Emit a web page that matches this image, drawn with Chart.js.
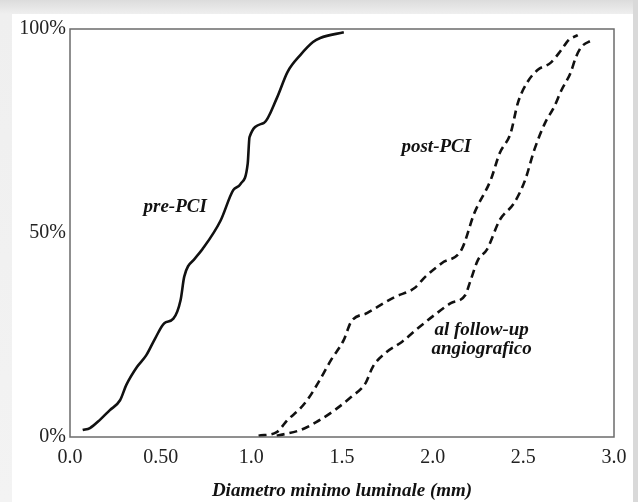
<!DOCTYPE html>
<html>
<head>
<meta charset="utf-8">
<script src="https://cdn.jsdelivr.net/npm/chart.js@4/dist/chart.umd.min.js"></script>
<style>
  html, body { margin: 0; padding: 0; width: 638px; height: 502px; overflow: hidden; }
  body { background: linear-gradient(to bottom, #dcdcdc 0px, #efefef 14px, #f3f3f3 100%); position: relative; }
  #card { position: absolute; left: 12px; top: 14px; width: 621px; height: 488px; background: #fff; }
  #rightedge { position: absolute; left: 633px; top: 0; width: 5px; height: 502px; background: #d9d9d9; }
  #wrap { position: absolute; left: 0; top: 0; width: 638px; height: 502px; }
</style>
</head>
<body>
<div id="card"></div>
<div id="rightedge"></div>
<div id="wrap"><canvas id="c" width="638" height="502"></canvas></div>
<script>
// ---- data (cumulative distribution of minimal luminal diameter) ----
const preX   = [0.07,0.11,0.165,0.22,0.276,0.31,0.37,0.42,0.47,0.52,0.57,0.61,0.63,0.69,0.73,0.83,0.90,0.94,0.98,0.99,1.07,1.14,1.20,1.27,1.34,1.38,1.51];
const preY   = [1.7,2.2,4.2,6.6,9.0,12.7,17.2,20.0,24.2,27.9,29.0,33.6,39.3,43.8,46.0,53.0,60.5,62.0,67.0,73.5,77.0,83.0,89.5,93.6,96.8,97.8,99.2];

const postX  = [1.04,1.14,1.20,1.27,1.32,1.37,1.44,1.51,1.55,1.64,1.79,1.90,1.96,2.05,2.16,2.23,2.32,2.37,2.43,2.47,2.52,2.58,2.65,2.71,2.75,2.80];
const postY  = [0.3,1.2,4.2,7.0,9.8,13.4,18.9,23.8,28.2,30.4,34.3,36.5,39.3,42.6,46.0,54.9,63.0,69.6,74.5,81.9,86.8,90.0,91.7,94.9,97.3,98.5];

const fupX   = [1.14,1.27,1.36,1.46,1.55,1.63,1.67,1.74,1.83,1.92,2.01,2.10,2.18,2.21,2.25,2.30,2.37,2.45,2.51,2.56,2.62,2.67,2.71,2.76,2.79,2.82,2.88];
const fupY   = [0.3,1.7,3.7,6.6,9.8,13.2,17.2,20.6,23.3,26.7,29.9,32.8,34.8,38.5,43.4,46.0,53.2,57.4,63.0,70.3,77.0,80.9,85.0,89.2,93.1,95.6,97.3];

const xTicks = [0.0, 0.5, 1.0, 1.5, 2.0, 2.5, 3.0];
const xTickLabels = ['0.0', '0.50', '1.0', '1.5', '2.0', '2.5', '3.0'];
const yTicks = [0, 50, 100];
const yTickLabels = ['0%', '50%', '100%'];

const seriesNames = ['pre-PCI', 'post-PCI', 'al follow-up angiografico'];
const xTitle = 'Diametro minimo luminale (mm)';

// text labels placed in data coordinates
const curveLabels = [
  { lines: ['pre-PCI'], x: 0.58, y: 56.4 },
  { lines: ['post-PCI'], x: 2.02, y: 71.0 },
  { lines: ['al follow-up', 'angiografico'], x: 2.27, y: 26.2 }
];

const toPts = (xs, ys) => xs.map((x, i) => ({ x: x, y: ys[i] }));

const SERIF = '"Liberation Serif", "Times New Roman", serif';

const frameAndLabels = {
  id: 'frameAndLabels',
  afterDatasetsDraw(chart) {
    const { ctx, chartArea: a, scales } = chart;
    ctx.save();
    ctx.strokeStyle = '#6b6b6b';
    ctx.lineWidth = 1.5;
    ctx.strokeRect(a.left, a.top, a.right - a.left, a.bottom - a.top);
    ctx.fillStyle = '#111';
    ctx.font = 'italic bold 19px ' + SERIF;
    ctx.textAlign = 'center';
    ctx.textBaseline = 'middle';
    curveLabels.forEach(l => {
      const px = scales.x.getPixelForValue(l.x);
      const py = scales.y.getPixelForValue(l.y);
      l.lines.forEach((t, i) => ctx.fillText(t, px, py + i * 19));
    });
    ctx.restore();
  }
};

new Chart(document.getElementById('c'), {
  type: 'line',
  data: {
    datasets: [
      { label: seriesNames[0], data: toPts(preX, preY), borderColor: '#111', borderWidth: 2.6, pointRadius: 0, cubicInterpolationMode: 'monotone', fill: false },
      { label: seriesNames[1], data: toPts(postX, postY), borderColor: '#111', borderWidth: 2.6, borderDash: [8, 5], pointRadius: 0, cubicInterpolationMode: 'monotone', fill: false },
      { label: seriesNames[2], data: toPts(fupX, fupY), borderColor: '#111', borderWidth: 2.6, borderDash: [8, 5], pointRadius: 0, cubicInterpolationMode: 'monotone', fill: false }
    ]
  },
  options: {
    responsive: false,
    animation: false,
    events: [],
    layout: { padding: { top: 29, right: 24, bottom: 0, left: 0 } },
    plugins: { legend: { display: false }, tooltip: { enabled: false } },
    scales: {
      x: {
        type: 'linear', min: 0, max: 3,
        grid: { display: false, drawTicks: false },
        border: { display: false },
        afterBuildTicks: s => { s.ticks = xTicks.map(v => ({ value: v })); },
        afterFit: s => { s.height = 65; },
        ticks: {
          padding: 9, color: '#222', maxRotation: 0, autoSkip: false,
          font: { family: SERIF, size: 20 },
          callback: (v) => { const i = xTicks.indexOf(v); return i >= 0 ? xTickLabels[i] : ''; }
        },
        title: { display: true, text: xTitle, color: '#111', padding: { top: 0, bottom: 0 },
                 font: { family: SERIF, size: 19, style: 'italic', weight: 'bold' } }
      },
      y: {
        type: 'linear', min: 0, max: 100,
        grid: { display: false, drawTicks: false },
        border: { display: false },
        afterBuildTicks: s => { s.ticks = yTicks.map(v => ({ value: v })); },
        afterFit: s => { s.width = 70; },
        ticks: {
          padding: 4, color: '#222', autoSkip: false,
          font: { family: SERIF, size: 20 },
          callback: (v) => { const i = yTicks.indexOf(v); return i >= 0 ? yTickLabels[i] : ''; }
        }
      }
    }
  },
  plugins: [frameAndLabels]
});
</script>
</body>
</html>
